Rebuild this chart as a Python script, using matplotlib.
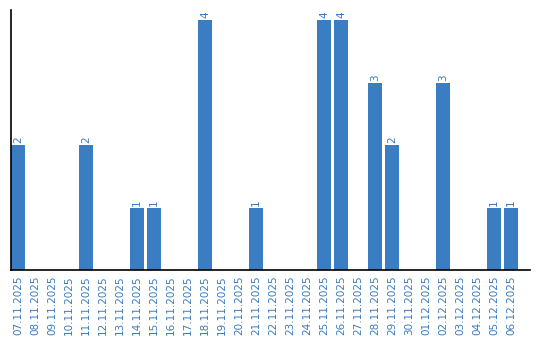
import matplotlib
matplotlib.use("Agg")
import matplotlib.pyplot as plt
import numpy as np

dates = ["07.11.2025", "08.11.2025", "09.11.2025", "10.11.2025", "11.11.2025",
         "12.11.2025", "13.11.2025", "14.11.2025", "15.11.2025", "16.11.2025",
         "17.11.2025", "18.11.2025", "19.11.2025", "20.11.2025", "21.11.2025",
         "22.11.2025", "23.11.2025", "24.11.2025", "25.11.2025", "26.11.2025",
         "27.11.2025", "28.11.2025", "29.11.2025", "30.11.2025", "01.12.2025",
         "02.12.2025", "03.12.2025", "04.12.2025", "05.12.2025", "06.12.2025"]
counts = [2, 0, 0, 0, 2, 0, 0, 1, 1, 0,
          0, 4, 0, 0, 1, 0, 0, 0, 4, 4,
          0, 3, 2, 0, 0, 3, 0, 0, 1, 1]

bar_color = "#3b7dc3"
text_color = "#3a7bbf"

fig = plt.figure(figsize=(5.4, 3.4), dpi=100)
ax = fig.add_axes([11 / 540, 70 / 340, 519 / 540, 260 / 340])

x = np.arange(len(dates))
ax.bar(x, counts, width=0.82, color=bar_color)
for xi, c in zip(x, counts):
    if c > 0:
        ax.text(xi, c + 0.03, str(c), rotation=90, ha="center", va="bottom",
                color=text_color, fontsize=7.5)

ax.set_xlim(-0.41, 30.1)
ax.set_ylim(0, 4.16)
ax.set_xticks(x)
ax.set_xticklabels(dates, rotation=90, color=text_color, fontsize=7.5)
ax.tick_params(axis="x", length=0, pad=4)
ax.set_yticks([])
ax.spines["top"].set_visible(False)
ax.spines["right"].set_visible(False)
ax.spines["left"].set_linewidth(1.2)
ax.spines["bottom"].set_linewidth(1.2)

fig.savefig("out.png", dpi=100)
